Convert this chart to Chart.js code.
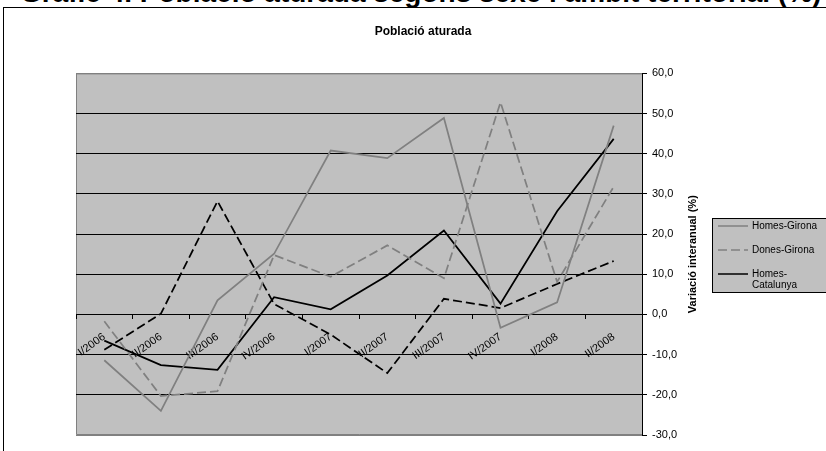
<!DOCTYPE html>
<html>
<head>
<meta charset="utf-8">
<title>Població aturada</title>
<script src="https://cdn.jsdelivr.net/npm/chart.js@4"></script>
<style>
  body { margin: 0; background: #fff; overflow: hidden; width: 826px; height: 451px; position: relative; }
  .page-title { position: absolute; left: 20px; top: -21px; font: bold 28px Arial, "Liberation Sans", sans-serif; line-height: 28px; white-space: nowrap; color: #000; }
  .frame { position: absolute; left: 3px; top: 7px; border: 1px solid #000; width: 838px; height: 460px; }
  canvas { display: block; }
</style>
</head>
<body>
<div class="page-title">Gràfic 4. Població aturada segons sexe i àmbit territorial (%)</div>
<div class="frame"><canvas id="lineChart" width="838" height="460"></canvas></div>
<script>
// Categories (quarters) and year-on-year variation (%) per series
const categories = ['I/2006', 'II/2006', 'III/2006', 'IV/2006', 'I/2007', 'II/2007', 'III/2007', 'IV/2007', 'I/2008', 'II/2008'];
const homesGirona = [-11.4, -24.0, 3.5, 15.1, 40.8, 38.9, 48.9, -3.3, 3.0, 47.0];
const donesGirona = [-1.7, -20.3, -19.1, 14.8, 9.4, 17.2, 9.0, 52.8, 8.1, 31.8];
const homesCatalunya = [-6.5, -12.6, -13.8, 4.3, 1.3, 9.7, 20.9, 2.7, 25.7, 43.7];
const donesCatalunya = [-8.8, 0.2, 28.2, 2.6, -5.0, -14.6, 3.9, 1.6, 7.6, 13.3];
const yMin = -30;
const yMax = 60;
const yStep = 10;

const fontFamily = 'Arial, "Liberation Sans", sans-serif';

// Grey plot area like the Excel original
const plotBackground = {
  id: 'plotBackground',
  beforeDraw(chart) {
    const { ctx, chartArea } = chart;
    ctx.save();
    ctx.fillStyle = '#c0c0c0';
    ctx.fillRect(chartArea.left, chartArea.top, chartArea.right - chartArea.left, chartArea.bottom - chartArea.top);
    ctx.strokeStyle = '#808080';
    ctx.lineWidth = 1;
    ctx.beginPath();
    ctx.moveTo(chartArea.right, chartArea.top + 0.5);
    ctx.lineTo(chartArea.left + 0.5, chartArea.top + 0.5);
    ctx.lineTo(chartArea.left + 0.5, chartArea.bottom - 0.5);
    ctx.lineTo(chartArea.right, chartArea.bottom - 0.5);
    ctx.stroke();
    ctx.restore();
  }
};

// Right axis title reads bottom to top, so draw it ourselves
const axisTitle = {
  id: 'axisTitle',
  afterDraw(chart) {
    const { ctx, chartArea } = chart;
    ctx.save();
    ctx.translate(chartArea.right + 51, (chartArea.top + chartArea.bottom) / 2);
    ctx.rotate(-Math.PI / 2);
    ctx.font = 'bold 11px ' + fontFamily;
    ctx.fillStyle = '#000';
    ctx.textAlign = 'center';
    ctx.textBaseline = 'middle';
    ctx.fillText('Variació interanual (%)', 0, 0);
    ctx.restore();
  }
};

// Boxed legend on the right (only the first three entries fit)
const legendBox = {
  id: 'legendBox',
  afterDraw(chart) {
    const { ctx } = chart;
    const x = 708, y = 210, w = 140, h = 74;
    ctx.save();
    ctx.fillStyle = '#c0c0c0';
    ctx.fillRect(x, y, w, h);
    ctx.strokeStyle = '#000';
    ctx.lineWidth = 1;
    ctx.strokeRect(x + 0.5, y + 0.5, w, h);
    ctx.font = '10px ' + fontFamily;
    ctx.textBaseline = 'middle';
    chart.data.datasets.slice(0, 3).forEach((ds, i) => {
      const rowY = y + 8 + i * 24;
      ctx.strokeStyle = ds.borderColor;
      ctx.lineWidth = 1.5;
      ctx.setLineDash(ds.borderDash || []);
      ctx.beginPath();
      ctx.moveTo(x + 6, rowY);
      ctx.lineTo(x + 36, rowY);
      ctx.stroke();
      ctx.setLineDash([]);
      ctx.fillStyle = '#000';
      let text = ds.label;
      if (ctx.measureText(text).width > 70 && text.indexOf('-') > 0) {
        const cut = text.indexOf('-') + 1;
        ctx.fillText(text.slice(0, cut), x + 40, rowY);
        ctx.fillText(text.slice(cut), x + 40, rowY + 11);
      } else {
        ctx.fillText(text, x + 40, rowY);
      }
    });
    ctx.restore();
  }
};

const ctx = document.getElementById('lineChart').getContext('2d');
new Chart(ctx, {
  type: 'line',
  data: {
    labels: categories,
    datasets: [{
      label: 'Homes-Girona',
      data: homesGirona,
      borderColor: '#808080',
      borderWidth: 1.75
    }, {
      label: 'Dones-Girona',
      data: donesGirona,
      borderColor: '#808080',
      borderDash: [9, 4],
      borderWidth: 1.75
    }, {
      label: 'Homes-Catalunya',
      data: homesCatalunya,
      borderColor: '#000000',
      borderWidth: 1.75
    }, {
      label: 'Dones-Catalunya',
      data: donesCatalunya,
      borderColor: '#000000',
      borderDash: [9, 4],
      borderWidth: 1.75
    }]
  },
  options: {
    responsive: false,
    animation: false,
    devicePixelRatio: 1,
    layout: { padding: { left: 72, right: 72, top: 0, bottom: 33 } },
    elements: {
      point: { radius: 0, hoverRadius: 0 },
      line: { tension: 0, fill: false }
    },
    scales: {
      x: {
        type: 'category',
        position: { y: 0 },
        offset: true,
        grid: { offset: true, drawOnChartArea: false, tickLength: 4, color: '#000' },
        border: { color: '#000', width: 1 },
        ticks: {
          autoSkip: false,
          minRotation: 35,
          maxRotation: 35,
          padding: 12,
          color: '#000',
          font: { family: fontFamily, size: 11 }
        }
      },
      y: {
        position: 'right',
        min: yMin,
        max: yMax,
        afterFit: (scale) => { scale.width = 128; },
        grid: {
          color: (c) => (c.tick && (c.tick.value === yMax || c.tick.value === yMin)) ? '#808080' : '#000',
          tickColor: '#000',
          tickLength: 5
        },
        border: { color: '#000', width: 1 },
        ticks: {
          stepSize: yStep,
          padding: 5,
          color: '#000',
          font: { family: fontFamily, size: 11 },
          callback: (v) => Number(v).toFixed(1).replace('.', ',')
        }
      }
    },
    plugins: {
      legend: { display: false },
      tooltip: { enabled: false },
      title: {
        display: true,
        text: 'Població aturada',
        color: '#000',
        font: { family: fontFamily, size: 12, weight: 'bold' },
        padding: { top: 16, bottom: 35 }
      }
    }
  },
  plugins: [plotBackground, axisTitle, legendBox]
});
</script>
</body>
</html>
